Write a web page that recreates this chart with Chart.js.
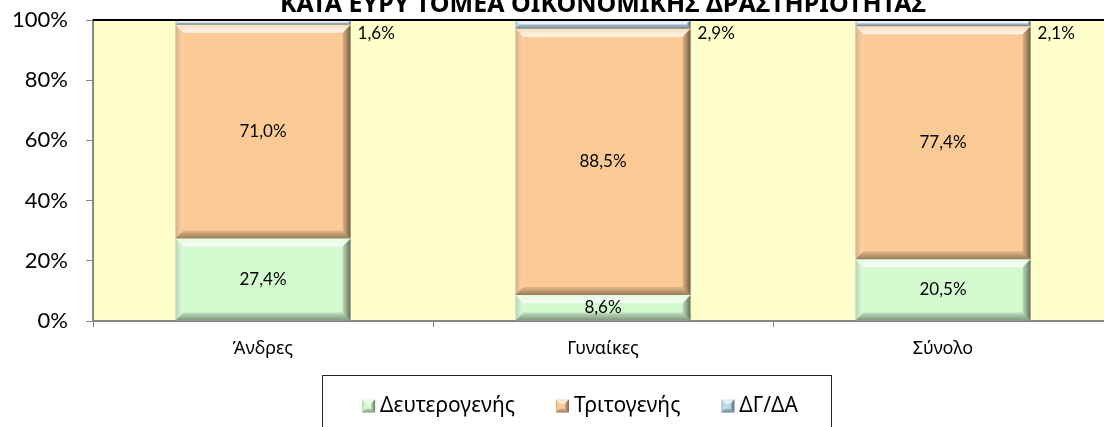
<!DOCTYPE html>
<html>
<head>
<meta charset="utf-8">
<script src="https://cdn.jsdelivr.net/npm/chart.js@4.4.1/dist/chart.umd.min.js"></script>
<style>
body { margin: 0; overflow: hidden; background: #fff; }
</style>
</head>
<body>
<canvas id="chart" width="1120" height="427"></canvas>
<script>
// Δεδομένα
const categories = ['Άνδρες', 'Γυναίκες', 'Σύνολο'];
const seriesNames = ['Δευτερογενής', 'Τριτογενής', 'ΔΓ/ΔΑ'];
const secondary = [27.4, 8.6, 20.5];
const tertiary = [71.0, 88.5, 77.4];
const notStated = [1.6, 2.9, 2.1];
const yTicks = [0, 20, 40, 60, 80, 100];
const titleText = 'ΚΑΤΑ ΕΥΡΥ ΤΟΜΕΑ ΟΙΚΟΝΟΜΙΚΗΣ ΔΡΑΣΤΗΡΙΟΤΗΤΑΣ';

const colors = ['#d4fad0', '#fccb95', '#bcdcee'];
const axisGray = '#868686';
const greekFont = "'Noto Sans', sans-serif";
const numFont = "Lato, 'Noto Sans', sans-serif";

function fmt(v) {
    return v.toFixed(1).replace('.', ',') + '%';
}

// bevel effect like the excel bars
function bevel(ctx, l, t, r, b, size) {
    const s = Math.min(size, (b - t) / 2, (r - l) / 2);
    if (s <= 0) return;
    const poly = (pts, fill) => {
        ctx.beginPath();
        ctx.moveTo(pts[0][0], pts[0][1]);
        for (let i = 1; i < pts.length; i++) ctx.lineTo(pts[i][0], pts[i][1]);
        ctx.closePath();
        ctx.fillStyle = fill;
        ctx.fill();
    };
    let g = ctx.createLinearGradient(0, t, 0, t + s);
    g.addColorStop(0, 'rgba(255,255,255,0.35)');
    g.addColorStop(1, 'rgba(255,255,255,0.85)');
    poly([[l, t], [r, t], [r - s, t + s], [l + s, t + s]], g);
    g = ctx.createLinearGradient(l, 0, l + s, 0);
    g.addColorStop(0, 'rgba(90,90,90,0.25)');
    g.addColorStop(1, 'rgba(255,255,255,0.1)');
    poly([[l, t], [l + s, t + s], [l + s, b - s], [l, b]], g);
    g = ctx.createLinearGradient(r - s, 0, r, 0);
    g.addColorStop(0, 'rgba(0,0,0,0.1)');
    g.addColorStop(1, 'rgba(0,0,0,0.55)');
    poly([[r, t], [r, b], [r - s, b - s], [r - s, t + s]], g);
    g = ctx.createLinearGradient(0, b - s, 0, b);
    g.addColorStop(0, 'rgba(0,0,0,0.1)');
    g.addColorStop(1, 'rgba(0,0,0,0.4)');
    poly([[l, b], [r, b], [r - s, b - s], [l + s, b - s]], g);
}

const plotBackground = {
    id: 'plotBackground',
    beforeDraw(chart) {
        const { ctx, chartArea: a } = chart;
        ctx.save();
        ctx.fillStyle = '#ffffcc';
        ctx.fillRect(a.left, a.top, a.right - a.left, a.bottom - a.top);
        ctx.restore();
    },
    afterDraw(chart) {
        const { ctx, chartArea: a } = chart;
        ctx.save();
        ctx.strokeStyle = '#000';
        ctx.lineWidth = 2;
        ctx.beginPath();
        ctx.moveTo(a.left, a.top);
        ctx.lineTo(a.right, a.top);
        ctx.stroke();
        ctx.restore();
    }
};

const barBevel = {
    id: 'barBevel',
    afterDatasetsDraw(chart) {
        const ctx = chart.ctx;
        ctx.save();
        chart.data.datasets.forEach((ds, i) => {
            chart.getDatasetMeta(i).data.forEach(el => {
                const l = el.x - el.width / 2, r = el.x + el.width / 2;
                const t = Math.min(el.y, el.base), b = Math.max(el.y, el.base);
                bevel(ctx, l, t, r, b, 8);
            });
        });
        ctx.restore();
    }
};

const valueLabels = {
    id: 'valueLabels',
    afterDatasetsDraw(chart) {
        const ctx = chart.ctx;
        ctx.save();
        ctx.font = '17px ' + numFont;
        ctx.fillStyle = '#000';
        ctx.textBaseline = 'middle';
        chart.data.datasets.forEach((ds, i) => {
            chart.getDatasetMeta(i).data.forEach((el, j) => {
                const v = ds.data[j];
                if (i === 2) {
                    ctx.textAlign = 'left';
                    ctx.fillText(fmt(v), el.x + el.width / 2 + 7, Math.min(el.y, el.base) + 14);
                } else {
                    ctx.textAlign = 'center';
                    ctx.fillText(fmt(v), el.x, (el.y + el.base) / 2);
                }
            });
        });
        ctx.restore();
    }
};

const cutTitle = {
    id: 'cutTitle',
    afterDraw(chart) {
        const ctx = chart.ctx;
        ctx.save();
        ctx.font = 'bold 25px ' + greekFont;
        ctx.fillStyle = '#000';
        ctx.textAlign = 'center';
        ctx.textBaseline = 'alphabetic';
        ctx.fillText(titleText, 603, 12);
        ctx.restore();
    }
};

const boxedLegend = {
    id: 'boxedLegend',
    afterDraw(chart) {
        const ctx = chart.ctx;
        const cy = 406, box = 13, gap = 5, spacing = 41;
        ctx.save();
        ctx.font = '21px ' + greekFont;
        const items = chart.data.datasets.map(ds => ({ text: ds.label, color: ds.backgroundColor, w: ctx.measureText(ds.label).width }));
        const total = items.reduce((s, it) => s + box + gap + it.w, 0) + spacing * (items.length - 1);
        let x = 580 - total / 2;
        const start = x;
        items.forEach(it => {
            ctx.fillStyle = it.color;
            ctx.fillRect(x, cy - box / 2, box, box);
            bevel(ctx, x, cy - box / 2, x + box, cy + box / 2, 4);
            ctx.fillStyle = '#000';
            ctx.textAlign = 'left';
            ctx.textBaseline = 'middle';
            ctx.fillText(it.text, x + box + gap, cy);
            x += box + gap + it.w + spacing;
        });
        const end = x - spacing;
        ctx.strokeStyle = '#222';
        ctx.lineWidth = 1;
        ctx.strokeRect(Math.round(start - 40) + 0.5, 375.5, Math.round(end - start + 73), 60);
        ctx.restore();
    }
};

new Chart(document.getElementById('chart'), {
    type: 'bar',
    data: {
        labels: categories,
        datasets: [
            { label: seriesNames[0], data: secondary, backgroundColor: colors[0] },
            { label: seriesNames[1], data: tertiary, backgroundColor: colors[1] },
            { label: seriesNames[2], data: notStated, backgroundColor: colors[2] }
        ]
    },
    options: {
        responsive: false,
        animation: false,
        layout: { padding: { top: 20, right: 7, left: 0, bottom: 0 } },
        datasets: { bar: { categoryPercentage: 1, barPercentage: 0.515 } },
        plugins: {
            legend: { display: false },
            tooltip: { enabled: false }
        },
        scales: {
            x: {
                stacked: true,
                grid: { drawOnChartArea: false, offset: true, tickLength: 6, color: axisGray, lineWidth: 1 },
                border: { color: axisGray, width: 2 },
                ticks: { font: { family: greekFont, size: 18 }, color: '#000', padding: 11 },
                afterFit(axis) { axis.height = 106; }
            },
            y: {
                stacked: true,
                min: 0,
                max: 100,
                afterBuildTicks(axis) { axis.ticks = yTicks.map(v => ({ value: v })); },
                grid: { drawOnChartArea: false, tickLength: 7, color: axisGray, lineWidth: 1 },
                border: { color: axisGray, width: 2 },
                ticks: { font: { family: numFont, size: 22 }, color: '#000', padding: 18, callback: v => v + '%' },
                afterFit(axis) {
                    axis.width = 93;
                    axis.paddingTop = 0;
                    axis.paddingBottom = 0;
                }
            }
        }
    },
    plugins: [plotBackground, barBevel, valueLabels, cutTitle, boxedLegend]
});
</script>
</body>
</html>
